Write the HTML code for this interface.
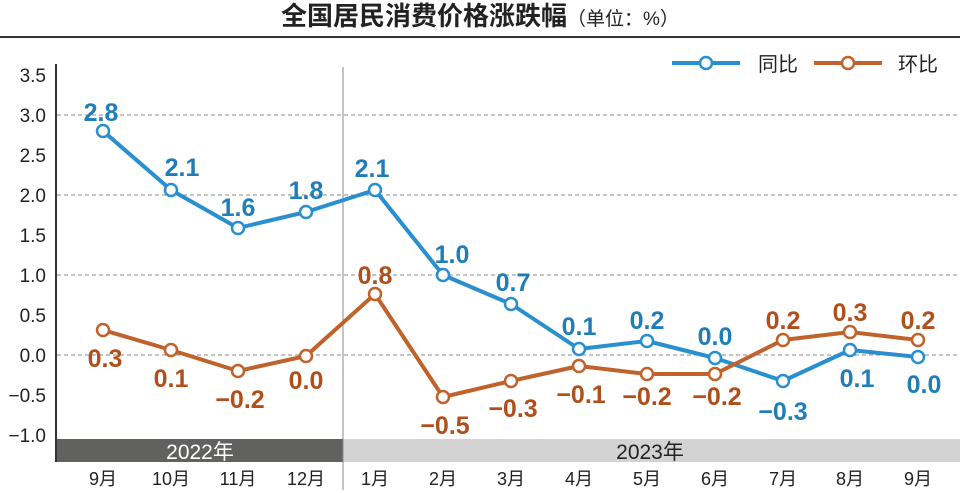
<!DOCTYPE html>
<html><head><meta charset="utf-8"><style>
html,body{margin:0;padding:0;background:#fff;}
svg{display:block;font-family:"Liberation Sans","Noto Sans CJK SC",sans-serif;}
</style></head><body>
<svg width="960" height="493" viewBox="0 0 960 493">
<text x="480" y="25" text-anchor="middle" font-size="26" font-weight="bold" fill="#222">全国居民消费价格涨跌幅<tspan font-size="19" font-weight="normal">（单位：%）</tspan></text>
<line x1="0" y1="37" x2="960" y2="37" stroke="#333" stroke-width="2"/>
<g stroke="#888" stroke-width="1" stroke-dasharray="4,3">
<line x1="57" y1="115" x2="960" y2="115"/><line x1="57" y1="195" x2="960" y2="195"/><line x1="57" y1="275" x2="960" y2="275"/><line x1="57" y1="355" x2="960" y2="355"/>
</g>
<rect x="56" y="439" width="287" height="23" fill="#616160"/>
<rect x="343" y="439" width="617" height="23" fill="#d3d3d3"/>
<text x="200" y="459" text-anchor="middle" font-size="21" fill="#fff">2022年</text>
<text x="650" y="459" text-anchor="middle" font-size="21" fill="#222">2023年</text>
<line x1="56" y1="64" x2="56" y2="462" stroke="#333" stroke-width="2"/>
<line x1="343" y1="67" x2="343" y2="490" stroke="#888" stroke-width="1"/>
<g font-size="19" fill="#222" text-anchor="end">
<text x="46" y="82">3.5</text><text x="46" y="122">3.0</text><text x="46" y="162">2.5</text><text x="46" y="202">2.0</text><text x="46" y="242">1.5</text><text x="46" y="282">1.0</text><text x="46" y="322">0.5</text><text x="46" y="362">0.0</text><text x="46" y="402">−0.5</text><text x="46" y="442">−1.0</text>
</g>
<g font-size="18" fill="#222" text-anchor="middle">
<text x="103" y="485">9月</text><text x="171" y="485">10月</text><text x="238" y="485">11月</text><text x="306" y="485">12月</text><text x="375" y="485">1月</text><text x="443" y="485">2月</text><text x="511" y="485">3月</text><text x="579" y="485">4月</text><text x="647" y="485">5月</text><text x="715" y="485">6月</text><text x="783" y="485">7月</text><text x="850" y="485">8月</text><text x="918" y="485">9月</text>
</g>
<polyline fill="none" stroke="#2a8fcf" stroke-width="4" stroke-linejoin="round" points="103,131 171,190 238,228 306,212 375,190 443,275 511,304 579,349 647,341 715,358 783,381 850,350 918,357"/>
<polyline fill="none" stroke="#c0622b" stroke-width="4" stroke-linejoin="round" points="103,330 171,350 238,371 306,356 375,294 443,397 511,381 579,366 647,374 715,374 783,340 850,332 918,340"/>
<g fill="#fff" stroke="#2a8fcf" stroke-width="2.5">
<circle cx="103" cy="131" r="6"/><circle cx="171" cy="190" r="6"/><circle cx="238" cy="228" r="6"/><circle cx="306" cy="212" r="6"/><circle cx="375" cy="190" r="6"/><circle cx="443" cy="275" r="6"/><circle cx="511" cy="304" r="6"/><circle cx="579" cy="349" r="6"/><circle cx="647" cy="341" r="6"/><circle cx="715" cy="358" r="6"/><circle cx="783" cy="381" r="6"/><circle cx="850" cy="350" r="6"/><circle cx="918" cy="357" r="6"/>
</g>
<g fill="#fff" stroke="#c0622b" stroke-width="2.5">
<circle cx="103" cy="330" r="6"/><circle cx="171" cy="350" r="6"/><circle cx="238" cy="371" r="6"/><circle cx="306" cy="356" r="6"/><circle cx="375" cy="294" r="6"/><circle cx="443" cy="397" r="6"/><circle cx="511" cy="381" r="6"/><circle cx="579" cy="366" r="6"/><circle cx="647" cy="374" r="6"/><circle cx="715" cy="374" r="6"/><circle cx="783" cy="340" r="6"/><circle cx="850" cy="332" r="6"/><circle cx="918" cy="340" r="6"/>
</g>
<g font-size="25" font-weight="bold" fill="#1f7db8" text-anchor="middle">
<text x="101" y="121">2.8</text><text x="182" y="176">2.1</text><text x="238" y="216">1.6</text><text x="306" y="199">1.8</text><text x="372" y="177">2.1</text><text x="452" y="263">1.0</text><text x="513" y="291">0.7</text><text x="579" y="335">0.1</text><text x="647" y="329">0.2</text><text x="715" y="345">0.0</text><text x="783" y="420">−0.3</text><text x="857" y="387">0.1</text><text x="924" y="393">0.0</text>
</g>
<g font-size="25" font-weight="bold" fill="#b14f1b" text-anchor="middle">
<text x="105" y="367">0.3</text><text x="171" y="387">0.1</text><text x="240" y="408">−0.2</text><text x="306" y="389">0.0</text><text x="375" y="284">0.8</text><text x="445" y="434">−0.5</text><text x="513" y="417">−0.3</text><text x="581" y="403">−0.1</text><text x="647" y="405">−0.2</text><text x="717" y="405">−0.2</text><text x="783" y="329">0.2</text><text x="850" y="321">0.3</text><text x="918" y="329">0.2</text>
</g>
<line x1="672" y1="63" x2="740" y2="63" stroke="#2a8fcf" stroke-width="4"/>
<circle cx="706" cy="63" r="6" fill="#fff" stroke="#2a8fcf" stroke-width="2.5"/>
<text x="758" y="71" font-size="20" fill="#222">同比</text>
<line x1="814" y1="63" x2="882" y2="63" stroke="#c0622b" stroke-width="4"/>
<circle cx="848" cy="63" r="6" fill="#fff" stroke="#c0622b" stroke-width="2.5"/>
<text x="898" y="71" font-size="20" fill="#222">环比</text>
</svg>
</body></html>
